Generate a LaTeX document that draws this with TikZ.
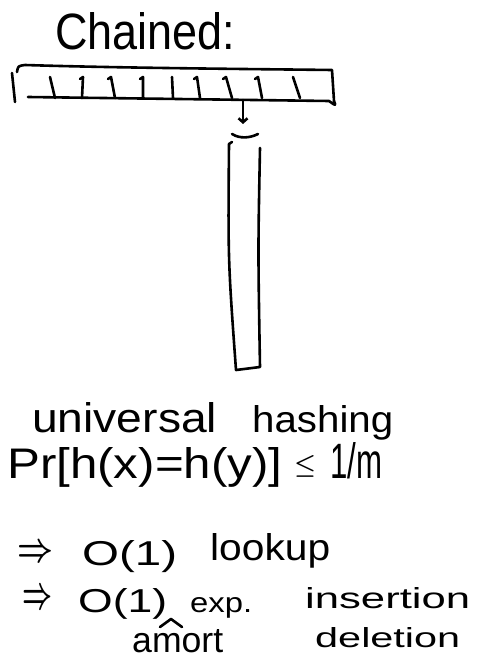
\documentclass[tikz,border=0pt]{standalone}
\usepackage{fontspec}
\usepackage{graphicx}
\setmainfont{Liberation Sans}
\usetikzlibrary{arrows.meta}
\newcommand{\hw}[3]{\resizebox{#1pt}{#2pt}{#3}}
\begin{document}
\begin{tikzpicture}[x=1pt,y=-1pt,
  ink/.style={draw=black, line width=2.6pt, line cap=round, line join=round},
  txt/.style={inner sep=0pt, anchor=base west}]
\useasboundingbox (0,0) rectangle (477,658);

% hash table array
\coordinate (tl) at (17,72);
\coordinate (tr) at (332,70);
\coordinate (br) at (334,101);
\coordinate (bl) at (28,97);
\draw[ink] (12,73) -- (15,102);
\draw[ink] (tl) .. controls (18,66) .. (25,65) .. controls (120,68) and (250,69) .. (tr)
  -- (br) .. controls (336,106) .. (329,101) -- (bl);
\foreach \a/\b/\h in {50/55/0, 83/82/1, 111/115/1, 143/143/1, 172/173/0, 197/200/1, 226/232/1, 258/262/1, 293/300/0}{
  \ifnum\h=1
    \draw[ink] (\a-3,79) -- (\a,77) -- (\b,98);
  \else
    \draw[ink] (\a,77) -- (\b,98);
  \fi
}

% pointer to chain
\coordinate (arrS) at (243,100);
\coordinate (arrE) at (243,124);
\draw[ink, -{Straight Barb[length=4pt,width=9pt]}] (arrS) -- (arrE);
\coordinate (tilL) at (232,134);
\coordinate (tilR) at (258,134);
\draw[ink] (tilL) .. controls (240,139) and (250,138) .. (tilR);

% chain
\coordinate (cTL) at (229,144);
\coordinate (cBL) at (236,370);
\coordinate (cBR) at (260,367);
\coordinate (cTR) at (260,148);
\draw[ink] (232,142) -- (cTL) .. controls (228,260) .. (cBL) -- (cBR) .. controls (258,250) .. (cTR);

% texts
\node[txt] (title) at (55,50) {\hw{180}{37}{Chained:}};
\node[txt] (uni) at (32,432) {\hw{185}{30}{universal}};
\node[txt] (hash) at (252,432) {\hw{141}{27}{hashing}};
\node[txt] (pr) at (7,478) {\hw{275}{31}{Pr[h(x)=h(y)]}};
\node[txt] (leq) at (294,472) {\hw{22}{17}{\boldmath$\leq$}};
\node[txt] (frac) at (330,478) {\hw{52}{36}{1/m}};
\node[txt] (ar1) at (17,561) {\hw{36}{16}{\boldmath$\Rightarrow$}};
\node[txt] (o1) at (82,565) {\hw{95}{25}{O(1)}};
\node[txt] (look) at (210,560) {\hw{120}{27}{lookup}};
\node[txt] (ar2) at (22,608) {\hw{30}{18}{\boldmath$\Rightarrow$}};
\node[txt] (o2) at (78,612) {\hw{89}{24}{O(1)}};
\node[txt] (exp) at (190,612) {\hw{62}{15}{exp.}};
\node[txt] (ins) at (305,608) {\hw{165}{21}{insertion}};
\node[txt] (amort) at (132,652) {\hw{91}{23}{amort}};
\node[txt] (del) at (315,647) {\hw{145}{20}{deletion}};
\draw[ink] (160,627) -- (171,619) -- (182,627);
\end{tikzpicture}
\end{document}
